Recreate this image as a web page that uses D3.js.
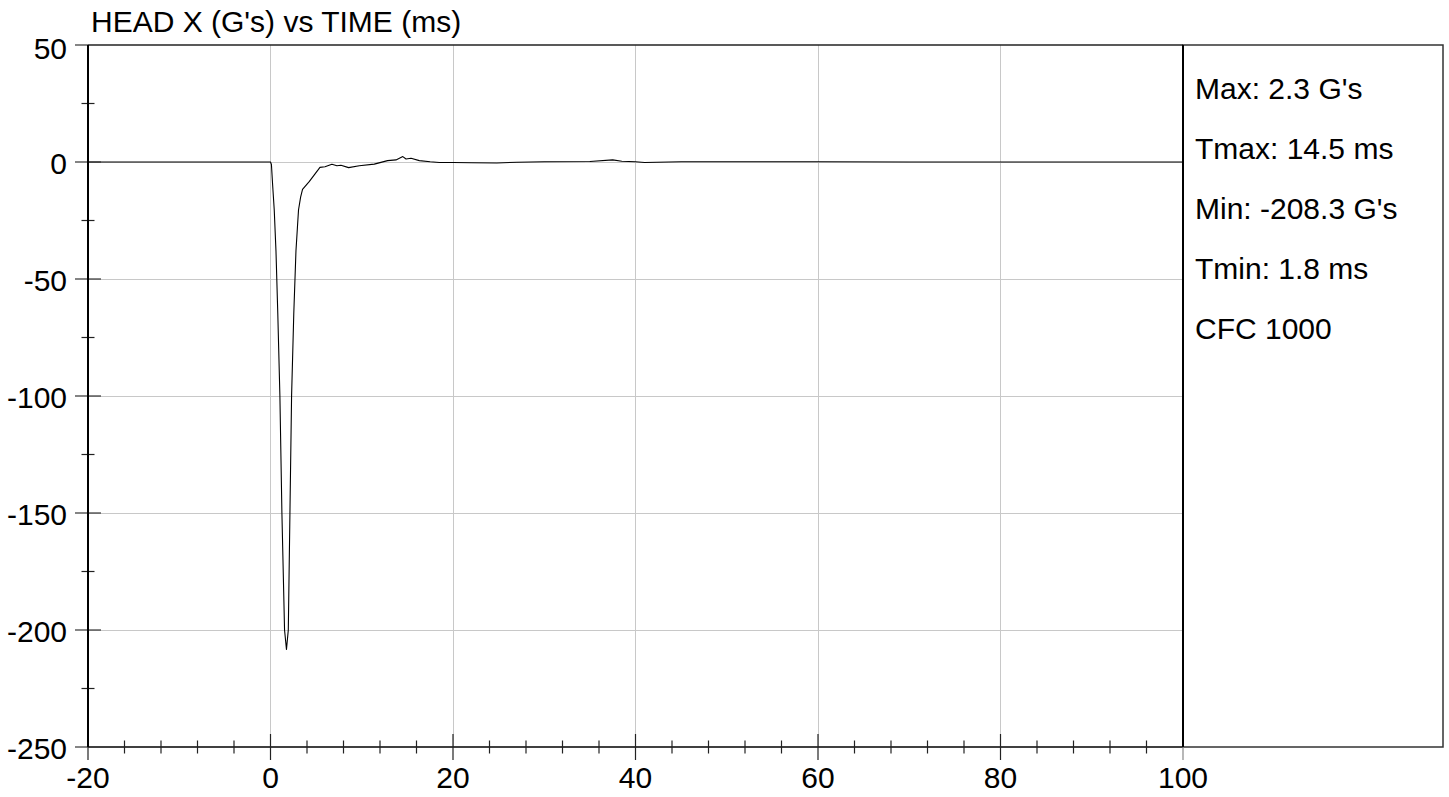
<!DOCTYPE html>
<html>
<head>
<meta charset="utf-8">
<script src="https://cdn.jsdelivr.net/npm/d3@7"></script>
<style>
  html, body { margin: 0; padding: 0; background: #fff; }
  svg { display: block; }
  text { font-family: "Liberation Sans", Arial, sans-serif; fill: #000; }
</style>
</head>
<body>
<svg id="chart" width="1449" height="797"></svg>
<script>
// ---- data ----
const timeMs = [-20, -15, -10, -5, -1, 0, 0.1, 0.22, 0.41, 0.6, 0.8, 1.03, 1.25, 1.54, 1.75, 1.95, 2.13, 2.31, 2.55, 2.79, 2.95, 3.07, 3.3, 3.51, 4.24, 4.8, 5.42, 5.97, 6.73, 7.28, 7.72, 8.56, 9.73, 11.37, 12.83, 13.75, 14.5, 14.85, 15.4, 16.31, 17.5, 18.5, 20, 22, 24.8, 27, 30, 35, 37.5, 38.5, 40, 41, 45, 50, 60, 70, 80, 90, 100];
const headX  = [0, 0, 0, 0, 0, 0, -1, -9, -20.5, -38, -65, -100, -150, -200, -208.3, -200, -150, -100, -65, -38, -28, -20.5, -15, -11.7, -8.4, -5.5, -2.3, -2, -1, -1.6, -1.4, -2.4, -1.6, -0.9, 0.6, 0.9, 2.3, 1.3, 1.6, 0.6, 0.1, -0.2, -0.2, -0.3, -0.4, -0.1, 0.1, 0.2, 0.9, 0.3, 0.1, -0.2, 0.1, 0.1, 0.1, 0, 0, 0, 0];

const xMajorTicks = [-20, 0, 20, 40, 60, 80, 100];
const xMinorTicks = [-16, -12, -8, -4, 4, 8, 12, 16, 24, 28, 32, 36, 44, 48, 52, 56, 64, 68, 72, 76, 84, 88, 92, 96];
const yMajorTicks = [50, 0, -50, -100, -150, -200, -250];
const yMinorTicks = [25, -25, -75, -125, -175, -225];
const xGridValues = [0, 20, 40, 60, 80];
const yGridValues = [0, -50, -100, -150, -200];

const titleText = "HEAD X (G's) vs TIME (ms)";
const statsLines = ["Max: 2.3 G's", "Tmax: 14.5 ms", "Min: -208.3 G's", "Tmin: 1.8 ms", "CFC 1000"];

// ---- layout ----
const svg = d3.select("#chart");
const pLeft = 88, pRight = 1183, pTop = 45, pBottom = 747;
const panelRight = 1443;
const fontSize = 30;
const fmt = d => String(d); // plain hyphen-minus as in the reference

const x = d3.scaleLinear().domain([-20, 100]).range([pLeft, pRight]);
const y = d3.scaleLinear().domain([-250, 50]).range([pBottom, pTop]);

// gridlines
const grid = svg.append("g");
grid.selectAll("line.gx").data(xGridValues).join("line")
  .attr("x1", d => x(d)).attr("x2", d => x(d))
  .attr("y1", pTop).attr("y2", pBottom)
  .attr("stroke", "#c8c8c8").attr("stroke-width", 1).attr("shape-rendering", "crispEdges");
grid.selectAll("line.gy").data(yGridValues).join("line")
  .attr("x1", pLeft).attr("x2", pRight)
  .attr("y1", d => y(d)).attr("y2", d => y(d))
  .attr("stroke", "#c8c8c8").attr("stroke-width", 1).attr("shape-rendering", "crispEdges");

// stats panel
svg.append("rect")
  .attr("x", pRight).attr("y", pTop)
  .attr("width", panelRight - pRight).attr("height", pBottom - pTop)
  .attr("fill", "none").attr("stroke", "#333").attr("stroke-width", 1.5);

// top border
svg.append("line").attr("x1", pLeft).attr("x2", pRight).attr("y1", pTop).attr("y2", pTop)
  .attr("stroke", "#222").attr("stroke-width", 1.5);

// data line
const line = d3.line().x((d, i) => x(timeMs[i])).y(d => y(d));
svg.append("path")
  .attr("d", line(headX))
  .attr("fill", "none").attr("stroke", "#000").attr("stroke-width", 1.1)
  .attr("stroke-linejoin", "round");

// x axis
const xAxisG = svg.append("g");
xAxisG.append("line").attr("x1", pLeft).attr("x2", pRight).attr("y1", pBottom).attr("y2", pBottom)
  .attr("stroke", "#000").attr("stroke-width", 1.5);
xAxisG.selectAll("line.xmaj").data(xMajorTicks).join("line")
  .attr("x1", d => x(d)).attr("x2", d => x(d))
  .attr("y1", d => (d === -20 || d === 100) ? pBottom : pBottom - 13)
  .attr("y2", pBottom + 13)
  .attr("stroke", d => d === 100 ? "#888" : "#222").attr("stroke-width", 1.2);
xAxisG.selectAll("line.xmin").data(xMinorTicks).join("line")
  .attr("x1", d => x(d)).attr("x2", d => x(d))
  .attr("y1", pBottom - 6.5).attr("y2", pBottom + 6.5)
  .attr("stroke", "#222").attr("stroke-width", 1.2);
xAxisG.selectAll("text").data(xMajorTicks).join("text")
  .attr("x", d => x(d)).attr("y", 788)
  .attr("text-anchor", "middle").attr("font-size", fontSize)
  .text(fmt);

// y axis
const yAxisG = svg.append("g");
yAxisG.selectAll("line.ymaj").data(yMajorTicks).join("line")
  .attr("x1", pLeft - 13)
  .attr("x2", d => (d === 50 || d === -250) ? pLeft : pLeft + 13)
  .attr("y1", d => y(d)).attr("y2", d => y(d))
  .attr("stroke", "#333").attr("stroke-width", 1.2);
yAxisG.selectAll("line.ymin").data(yMinorTicks).join("line")
  .attr("x1", pLeft - 6.5).attr("x2", pLeft + 6.5)
  .attr("y1", d => y(d)).attr("y2", d => y(d))
  .attr("stroke", "#222").attr("stroke-width", 1.2);
yAxisG.append("line").attr("x1", pLeft).attr("x2", pLeft).attr("y1", pTop).attr("y2", pBottom)
  .attr("stroke", "#000").attr("stroke-width", 2);
yAxisG.selectAll("text").data(yMajorTicks).join("text")
  .attr("x", 67).attr("y", d => y(d) + (d === 50 ? 14 : 12))
  .attr("text-anchor", "end").attr("font-size", fontSize)
  .text(fmt);

// right edge of plot
svg.append("line").attr("x1", pRight).attr("x2", pRight).attr("y1", pTop).attr("y2", pBottom)
  .attr("stroke", "#000").attr("stroke-width", 2);

// title
svg.append("text").attr("x", 91).attr("y", 32)
  .attr("font-size", fontSize).text(titleText);

// stats text
svg.append("g").selectAll("text").data(statsLines).join("text")
  .attr("x", 1195).attr("y", (d, i) => 99 + i * 60)
  .attr("font-size", fontSize).text(d => d);
</script>
</body>
</html>
